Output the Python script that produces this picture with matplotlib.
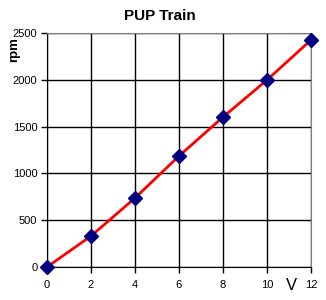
import numpy as np
import matplotlib
matplotlib.use("Agg")
import matplotlib.pyplot as plt

# dati
volt = [0, 2, 4, 6, 8, 10, 12]
rpm = [0, 331, 737, 1186, 1602, 1998, 2425]
x_ticks = [0, 2, 4, 6, 8, 10, 12]
y_ticks = [0, 500, 1000, 1500, 2000, 2500]

plt.rcParams['font.family'] = ['Liberation Sans', 'DejaVu Sans']

fig = plt.figure(figsize=(3.26, 3.0), dpi=100)
ax = fig.add_axes([47/326, 33/300, 264/326, 234/300])

ax.plot(volt, rpm, color='red', lw=2, zorder=3, clip_on=False)
ax.plot(volt, rpm, 'D', color='#000080', markersize=7.5, zorder=4, clip_on=False)

ax.set_xlim(0, 12)
ax.set_ylim(0, 2500)
ax.set_xticks(x_ticks)
ax.set_yticks(y_ticks)
ax.grid(True, color='black', lw=1)
ax.set_axisbelow(True)
ax.tick_params(labelsize=8, length=4, width=1, colors='black', pad=3)
ax.tick_params(axis='x', pad=5)
for s in ['top', 'right']:
    ax.spines[s].set_color('#808080')
for s in ['left', 'bottom']:
    ax.spines[s].set_color('black')

fig.text(160/326, 1 - 16/300, 'PUP Train', ha='center', va='center', fontsize=11, fontweight='bold')
fig.text(14/326, 1 - 50/300, 'rpm', ha='center', va='center', rotation=90, fontsize=9.5, fontweight='bold')
fig.text(291/326, 1 - 286/300, 'V', ha='center', va='center', fontsize=12)

fig.savefig('out.png', dpi=100)
